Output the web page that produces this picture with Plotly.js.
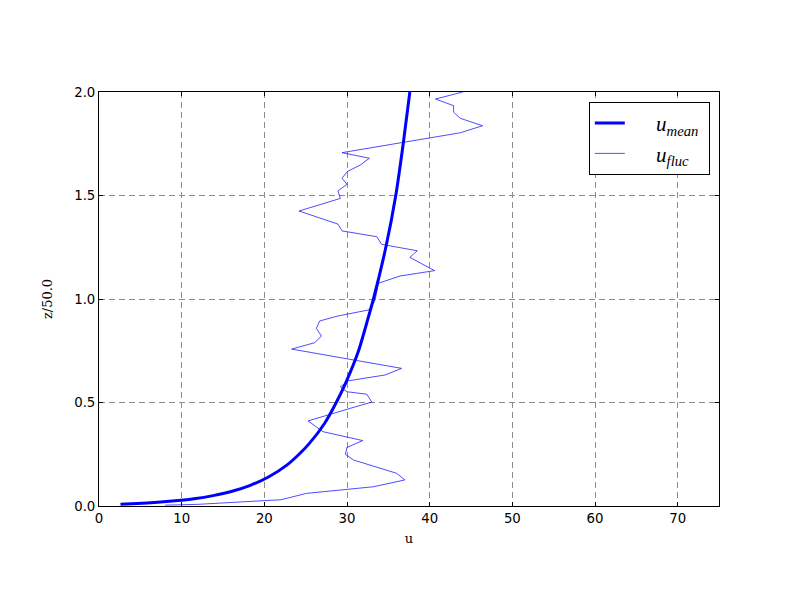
<!DOCTYPE html>
<html>
<head>
<meta charset="utf-8">
<script src="https://cdn.plot.ly/plotly-3.0.1.min.js"></script>
<style>html,body{margin:0;padding:0;background:#fff;}#chart{width:800px;height:600px;}</style>
</head>
<body>
<div id="chart"></div>
<script>
// mean profile
const zMean = [0.008, 0.012, 0.018, 0.025, 0.035, 0.05, 0.07, 0.1, 0.14, 0.2, 0.25, 0.3, 0.4, 0.5, 0.6, 0.75, 0.9, 1.0, 1.25, 1.5, 1.75, 2.0];
const uMean = [2.6, 4.6, 7.1, 9.2, 11.5, 13.8, 16.0, 18.3, 20.5, 22.8, 24.2, 25.4, 27.3, 28.7, 29.9, 31.4, 32.5, 33.2, 34.7, 35.9, 36.8, 37.6];

// fluctuating profile
const zFluc = [0.004, 0.008, 0.026, 0.030, 0.061, 0.093, 0.126, 0.158, 0.222, 0.250, 0.283, 0.316, 0.359, 0.411, 0.472, 0.502, 0.540, 0.552, 0.576, 0.605, 0.633, 0.665, 0.758, 0.789, 0.821, 0.858, 0.894, 0.918, 0.947, 0.966, 0.995, 1.076, 1.111, 1.137, 1.201, 1.233, 1.264, 1.301, 1.329, 1.362, 1.425, 1.486, 1.522, 1.554, 1.583, 1.615, 1.647, 1.680, 1.707, 1.803, 1.837, 1.873, 1.902, 1.934, 1.966, 2.000];
const uFluc = [8.0, 12.0, 20.0, 22.0, 25.1, 33.2, 37.0, 36.0, 30.8, 29.8, 30.0, 31.9, 27.1, 25.3, 30.4, 33.0, 32.4, 30.0, 29.2, 30.2, 34.6, 36.6, 23.3, 26.1, 26.9, 26.3, 26.7, 28.9, 32.6, 33.0, 33.4, 33.8, 36.4, 40.6, 37.6, 38.5, 34.2, 33.6, 29.4, 28.9, 24.2, 29.2, 28.9, 30.0, 29.4, 30.0, 31.6, 32.7, 29.4, 43.7, 46.4, 43.7, 42.9, 42.9, 40.7, 44.0];

const xTicks = [0, 10, 20, 30, 40, 50, 60, 70];
const yTicks = [0.0, 0.5, 1.0, 1.5, 2.0];
const yTickText = ['0.0', '0.5', '1.0', '1.5', '2.0'];

const traces = [
  {x: uMean, y: zMean, mode: 'lines', name: '&nbsp;&nbsp;&nbsp;&nbsp;&nbsp;<i>u</i><sub><i>mean</i></sub>&nbsp;',
   line: {color: '#0000ff', width: 3, shape: 'spline', smoothing: 0.6}},
  {x: uFluc, y: zFluc, mode: 'lines', name: '&nbsp;&nbsp;&nbsp;&nbsp;&nbsp;<i>u</i><sub><i>fluc</i></sub>&nbsp;',
   line: {color: '#0000ff', width: 0.7}}
];

const axisCommon = {
  showline: true, linecolor: '#000', linewidth: 1, mirror: 'ticks',
  ticks: 'inside', ticklen: 4, tickcolor: '#000', tickwidth: 1,
  showgrid: true, gridcolor: '#8c8c8c', gridwidth: 1, griddash: '6px,4px',
  zeroline: false,
  tickfont: {family: 'DejaVu Sans', size: 13.3, color: '#000'}
};

const layout = {
  width: 800, height: 600,
  paper_bgcolor: '#fff', plot_bgcolor: '#fff',
  margin: {l: 99, r: 81, t: 92, b: 94},
  showlegend: true,
  xaxis: Object.assign({}, axisCommon, {
    range: [0, 75], tickvals: xTicks,
    title: {text: 'u', font: {family: 'DejaVu Serif', size: 13, color: '#000'}, standoff: 8}
  }),
  yaxis: Object.assign({}, axisCommon, {
    range: [0, 2], tickvals: yTicks, ticktext: yTickText,
    title: {text: 'z/50.0', font: {family: 'DejaVu Serif', size: 13, color: '#000'}, standoff: 18}
  }),
  legend: {
    x: 0.790, y: 0.976, xanchor: 'left', yanchor: 'top',
    bgcolor: '#fff', bordercolor: '#000', borderwidth: 1,
    font: {family: 'Liberation Serif', size: 21, color: '#000'}
  }
};

Plotly.newPlot('chart', traces, layout, {displayModeBar: false, staticPlot: true});
</script>
</body>
</html>
